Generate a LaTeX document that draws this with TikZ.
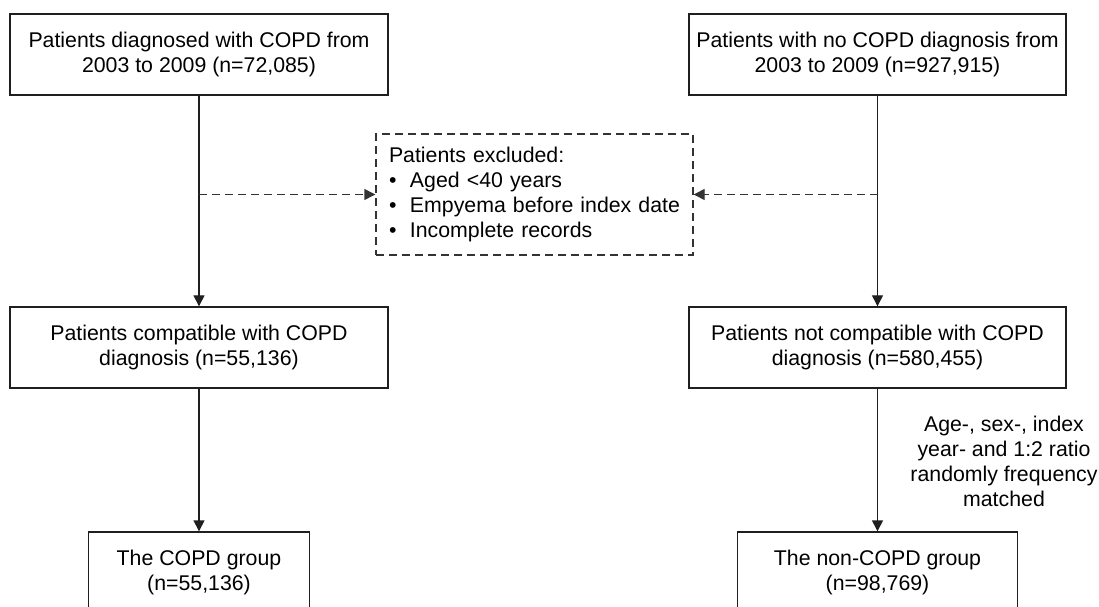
\documentclass[tikz,border=0pt]{standalone}
\usepackage{fontspec}
\setmainfont{Liberation Sans}
\usetikzlibrary{arrows.meta}
\begin{document}
\begin{tikzpicture}[x=1bp,y=-1bp,
  every node/.style={font=\fontsize{21.3bp}{25bp}\selectfont, text=black},
  box/.style={draw=black!88, line width=1.4bp, align=center, inner sep=0pt, minimum height=81bp},
  dbox/.style={draw=black!80, line width=1.4bp, dash pattern=on 8bp off 5bp, align=left,
     inner xsep=13bp, inner ysep=0pt, text width=291bp, minimum height=121bp},
  flow/.style={draw=black!88, line width=1.4bp, -{Triangle[width=11bp,length=11bp]}},
  dflow/.style={draw=black!80, line width=1.4bp, dash pattern=on 8bp off 5bp, -{Triangle[width=11bp,length=11bp]}}
]
\useasboundingbox (0,0) rectangle (1099,607);
\clip (0,0) rectangle (1099,607);
\fill[white] (0,0) rectangle (1099,607);

\node[box, minimum width=378bp] (tl) at (199,54.5) {Patients diagnosed with COPD from\\2003 to 2009 (n=72,085)};
\node[box, minimum width=377bp] (tr) at (877.5,54.5) {Patients with no COPD diagnosis from\\2003 to 2009 (n=927,915)};
\node[box, minimum width=378bp] (ml) at (199,347.5) {Patients compatible with COPD\\diagnosis (n=55,136)};
\node[box, minimum width=377bp] (mr) at (877.5,347.5) {Patients not compatible with COPD\\diagnosis (n=580,455)};
\node[box, minimum width=221bp] (bl) at (199,572.5) {The COPD group\\(n=55,136)};
\node[box, minimum width=280bp] (br) at (877.5,572.5) {The non-COPD group\\(n=98,769)};

\node[dbox] (ex) at (534.5,194.5) {Patients excluded:\\
\makebox[21bp][l]{\textbullet}Aged <40 years\\
\makebox[21bp][l]{\textbullet}Empyema before index date\\
\makebox[21bp][l]{\textbullet}Incomplete records};

\node[align=center, inner sep=0pt] (lab) at (1004,461) {Age-, sex-, index\\year- and 1:2 ratio\\randomly frequency\\matched};

\draw[flow] (tl.south) -- (tl.south |- ml.north);
\draw[flow] (tr.south) -- (tr.south |- mr.north);
\draw[flow] (ml.south) -- (ml.south |- bl.north);
\draw[flow] (mr.south) -- (mr.south |- br.north);
\draw[dflow] (tl.south |- ex.west) -- (ex.west);
\draw[dflow] (tr.south |- ex.east) -- (ex.east);
\end{tikzpicture}
\end{document}
